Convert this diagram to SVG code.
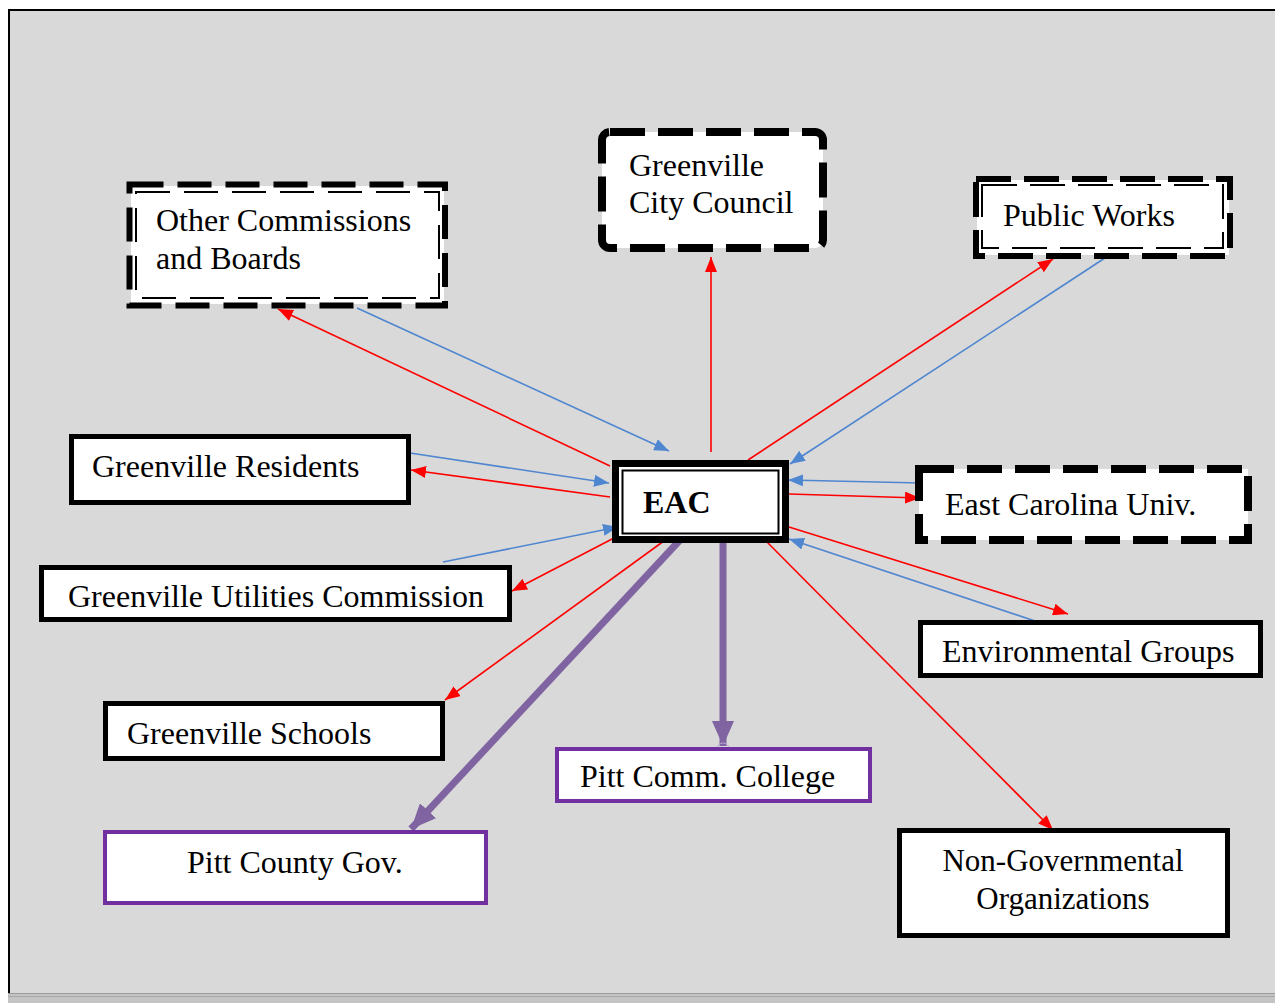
<svg xmlns="http://www.w3.org/2000/svg" width="1275" height="1003" viewBox="0 0 1275 1003">
<style>
.lbl{font-family:"Liberation Serif","Times New Roman",serif;font-size:32px;fill:#000}
.bold{font-weight:bold}
.box{fill:#fff;stroke:#000;stroke-width:5}
.pbox{fill:#fff;stroke:#7030a0;stroke-width:4}
.dthick{fill:none;stroke:#000;stroke-width:6;stroke-dasharray:34 14}
.dthin{fill:none;stroke:#000;stroke-width:2;stroke-dasharray:34 14}
.red{stroke:#ff0000;stroke-width:1.6;fill:none;marker-end:url(#ar)}
.blue{stroke:#4f86d0;stroke-width:1.6;fill:none;marker-end:url(#ab)}
.purple{stroke:#8064a2;stroke-width:7;fill:none;marker-end:url(#ap)}
</style>
<defs>
<marker id="ar" markerUnits="userSpaceOnUse" markerWidth="16" markerHeight="12" refX="15" refY="6" orient="auto"><path d="M0,0 L15,6 L0,12 z" fill="#ff0000"/></marker>
<marker id="ab" markerUnits="userSpaceOnUse" markerWidth="16" markerHeight="12" refX="15" refY="6" orient="auto"><path d="M0,0 L15,6 L0,12 z" fill="#4f86d0"/></marker>
<marker id="ap" markerUnits="userSpaceOnUse" markerWidth="26" markerHeight="22" refX="25" refY="11" orient="auto"><path d="M0,0 L25,11 L0,22 z" fill="#8064a2"/></marker>
</defs>
<rect x="0" y="0" width="1275" height="1003" fill="#ffffff"/>
<rect x="8" y="9" width="1267" height="985" fill="#d9d9d9"/>
<line x1="8" y1="10" x2="1275" y2="10" stroke="#000" stroke-width="2"/>
<line x1="9" y1="9" x2="9" y2="994" stroke="#000" stroke-width="2"/>
<rect x="8" y="993" width="1267" height="10" fill="#c4c4c4"/>
<line x1="8" y1="993.5" x2="1275" y2="993.5" stroke="#9a9a9a" stroke-width="1"/>
<line x1="8" y1="996.5" x2="1275" y2="996.5" stroke="#a8a8a8" stroke-width="1"/>

<g id="connectors">
<line class="red" x1="610" y1="466" x2="278" y2="309"/>
<line class="blue" x1="357" y1="308" x2="669" y2="451"/>
<line class="red" x1="711" y1="452" x2="711" y2="257"/>
<line class="red" x1="748" y1="460" x2="1053" y2="259"/>
<line class="blue" x1="1108" y1="256" x2="790" y2="464"/>
<line class="blue" x1="410" y1="453" x2="609" y2="483"/>
<line class="red" x1="610" y1="497" x2="411" y2="470"/>
<line class="blue" x1="443" y1="562" x2="618" y2="527"/>
<line class="red" x1="614" y1="538" x2="512" y2="591"/>
<line class="red" x1="668" y1="538" x2="445" y2="700"/>
<line class="blue" x1="921" y1="483" x2="788" y2="480"/>
<line class="red" x1="789" y1="494" x2="920" y2="498"/>
<line class="red" x1="789" y1="527" x2="1068" y2="614"/>
<line class="blue" x1="1035" y1="621" x2="789" y2="539"/>
<line class="red" x1="765" y1="540" x2="1053" y2="830"/>
<line class="purple" x1="680" y1="540" x2="411" y2="829"/>
<line class="purple" x1="723" y1="540" x2="723" y2="746"/>
<circle cx="723" cy="749" r="6" fill="none" stroke="#b9a6d3" stroke-width="1"/>
</g>

<g id="other-commissions">
<rect x="131" y="186" width="313" height="118" fill="#fff"/>
<rect class="dthick" x="129.5" y="184.5" width="315.5" height="121"/>
<rect class="dthin" x="136" y="192" width="303" height="106"/>
<text class="lbl" x="156" y="231">Other Commissions</text>
<text class="lbl" x="156" y="269">and Boards</text>
</g>

<g id="city-council">
<rect x="602" y="132" width="221" height="116" rx="8" fill="#fff" stroke="#000" stroke-width="8" stroke-dasharray="35 13"/>
<text class="lbl" x="629" y="176">Greenville</text>
<text class="lbl" x="629" y="213">City Council</text>
</g>

<g id="public-works">
<rect x="977" y="180" width="252" height="75" fill="#fff"/>
<rect class="dthick" x="976" y="179" width="254" height="77" style="stroke-dasharray:35 13"/>
<rect class="dthin" x="982" y="185" width="241" height="63" style="stroke-dasharray:35 13"/>
<text class="lbl" x="1003" y="226">Public Works</text>
</g>

<g id="eac">
<rect x="612" y="460" width="177" height="83" fill="#000"/>
<rect x="619" y="467" width="163" height="69" fill="#fff"/>
<rect x="622.5" y="470.5" width="156" height="63" fill="#fff" stroke="#000" stroke-width="2"/>
<text class="lbl bold" x="643" y="513">EAC</text>
</g>

<g id="ecu">
<rect x="919" y="469" width="329" height="71" fill="#fff" stroke="#000" stroke-width="8" stroke-dasharray="35 13"/>
<text class="lbl" x="945" y="515">East Carolina Univ.</text>
</g>

<g id="residents">
<rect class="box" x="71.5" y="436.5" width="337" height="66"/>
<text class="lbl" x="92" y="477">Greenville Residents</text>
</g>

<g id="guc">
<rect class="box" x="41.5" y="567.5" width="468" height="52"/>
<text class="lbl" x="68" y="607">Greenville Utilities Commission</text>
</g>

<g id="schools">
<rect class="box" x="105.5" y="703.5" width="337" height="55"/>
<text class="lbl" x="127" y="744">Greenville Schools</text>
</g>

<g id="pitt-county">
<rect class="pbox" x="105" y="832" width="381" height="71"/>
<text class="lbl" x="187" y="873">Pitt County Gov.</text>
</g>

<g id="pitt-comm">
<rect class="pbox" x="557" y="749" width="313" height="52"/>
<text class="lbl" x="580" y="787">Pitt Comm. College</text>
</g>

<g id="env-groups">
<rect class="box" x="920.5" y="622.5" width="340" height="53"/>
<text class="lbl" x="942" y="662">Environmental Groups</text>
</g>

<g id="ngo">
<rect class="box" x="899.5" y="830.5" width="328" height="105"/>
<text class="lbl" x="1063" y="871" text-anchor="middle" style="font-size:31px">Non-Governmental</text>
<text class="lbl" x="1063" y="909" text-anchor="middle" style="font-size:31px">Organizations</text>
</g>
</svg>
